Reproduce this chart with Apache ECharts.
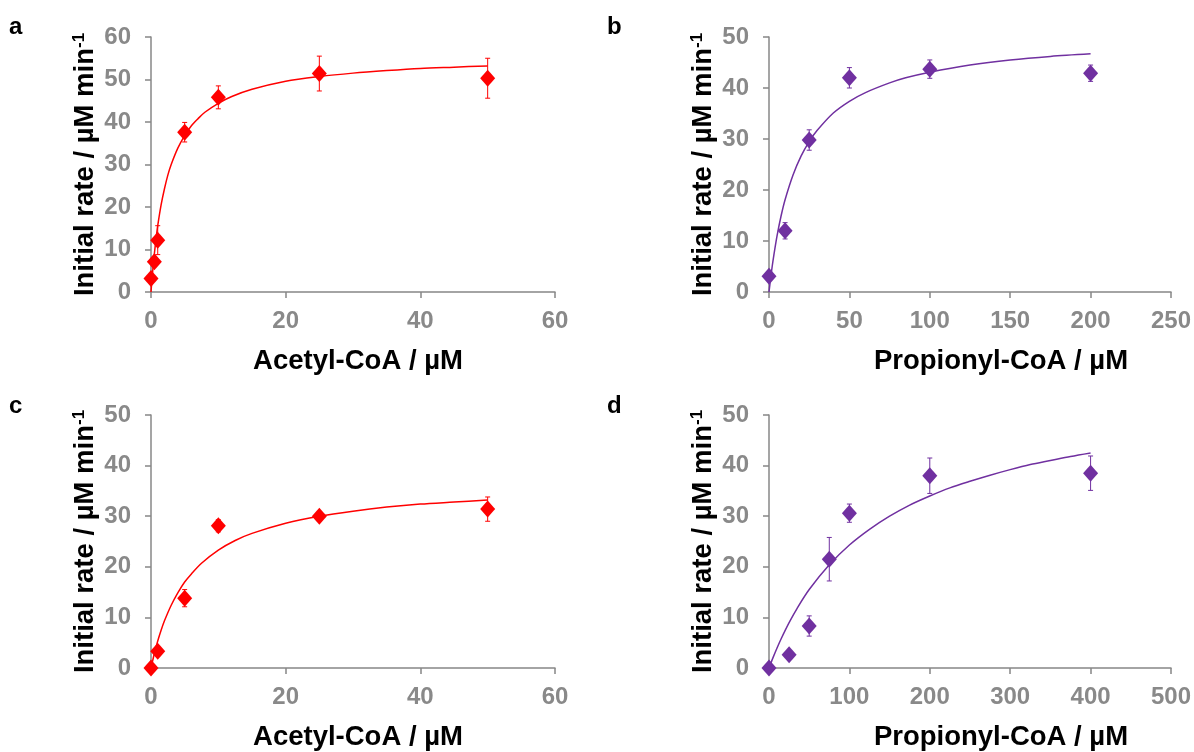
<!DOCTYPE html>
<html>
<head>
<meta charset="utf-8">
<script src="https://cdn.jsdelivr.net/npm/echarts@6/dist/echarts.min.js"></script>
<style>
html,body{margin:0;padding:0;background:#fff;}
#chart{width:1194px;height:752px;}
</style>
</head>
<body>
<div id="chart"></div>
<script>
// ---- Panel a: Acetyl-CoA ----
const aConc = [0, 0.5, 1, 5, 10, 25, 50];
const aRate = [3.2, 7.1, 12.2, 37.6, 45.8, 51.4, 50.3];
const aErr  = [0.8, 0.8, 3.4, 2.3, 2.7, 4.1, 4.7];
const aFitX = [0, 0.1, 0.25, 0.5, 0.75, 1, 1.5, 2, 2.5, 3, 4, 5, 6, 7, 8, 10, 12, 15, 20, 25, 30, 35, 40, 45, 50];
const aFitY = [0, 2.1, 4.9, 9.0, 12.5, 15.6, 20.5, 24.3, 27.5, 30.0, 33.9, 36.8, 39.1, 40.8, 42.3, 44.4, 46.0, 47.7, 49.6, 50.7, 51.5, 52.1, 52.6, 52.9, 53.2];

// ---- Panel b: Propionyl-CoA ----
const bConc = [0, 10, 25, 50, 100, 200];
const bRate = [3.1, 12.0, 29.8, 42.0, 43.7, 42.9];
const bErr  = [0.5, 1.6, 2.0, 2.0, 1.8, 1.6];
const bFitX = [0, 1, 2, 3, 5, 7.5, 10, 15, 20, 25, 30, 40, 50, 60, 75, 85, 100, 125, 150, 175, 200];
const bFitY = [0, 2.66, 5.05, 7.2, 11.0, 14.9, 18.1, 23.0, 26.7, 29.5, 31.7, 35.1, 37.4, 39.1, 41.0, 42.0, 43.1, 44.5, 45.5, 46.2, 46.7];

// ---- Panel c: Acetyl-CoA ----
const cConc = [0, 1, 5, 10, 25, 50];
const cRate = [0, 3.3, 13.8, 28.1, 30.0, 31.4];
const cErr  = [0.3, 0.5, 1.7, 1.2, 0.5, 2.4];
const cFitX = [0, 0.5, 1, 1.5, 2, 3, 4, 5, 6, 7.5, 10, 12.5, 15, 20, 25, 30, 35, 40, 45, 50];
const cFitY = [0, 2.87, 5.34, 7.47, 9.33, 12.4, 14.9, 17.0, 18.6, 20.7, 23.3, 25.2, 26.6, 28.6, 30.0, 31.0, 31.8, 32.4, 32.8, 33.2];

// ---- Panel d: Propionyl-CoA ----
const dConc = [0, 25, 50, 75, 100, 200, 400];
const dRate = [0, 2.6, 8.3, 21.5, 30.6, 38.0, 38.5];
const dErr  = [0.3, 0.4, 2.0, 4.3, 1.8, 3.5, 3.4];
const dFitX = [0, 5, 10, 15, 25, 35, 50, 75, 100, 125, 150, 175, 200, 225, 250, 275, 300, 325, 350, 375, 400];
const dFitY = [0, 2.05, 3.96, 5.74, 8.96, 11.8, 15.5, 20.4, 24.3, 27.4, 30.0, 32.2, 34.0, 35.6, 36.9, 38.1, 39.2, 40.2, 41.0, 41.8, 42.5];

// ---- Axis settings / labels ----
const panelLetters = ['a', 'b', 'c', 'd'];
const xNames = ['Acetyl-CoA / µM', 'Propionyl-CoA / µM', 'Acetyl-CoA / µM', 'Propionyl-CoA / µM'];
const yName = 'Initial rate / µM min{sup|-1}';
const xMax = [60, 250, 60, 500];
const xInterval = [20, 50, 20, 100];
const yMax = [60, 50, 50, 50];
const yInterval = [10, 10, 10, 10];

const RED = '#FF0000';
const PURPLE = '#7030A0';
const colors = [RED, PURPLE, RED, PURPLE];
const FONT = 'Liberation Sans, Arial, sans-serif';
const AXIS_GREY = '#878787';
const LABEL_GREY = '#898989';

const panels = [
  {conc: aConc, rate: aRate, err: aErr, fx: aFitX, fy: aFitY},
  {conc: bConc, rate: bRate, err: bErr, fx: bFitX, fy: bFitY},
  {conc: cConc, rate: cRate, err: cErr, fx: cFitX, fy: cFitY},
  {conc: dConc, rate: dRate, err: dErr, fx: dFitX, fy: dFitY}
];

const grids = [
  {left: 151, top: 37, width: 404, height: 255},
  {left: 769, top: 37, width: 406, height: 255},
  {left: 151, top: 415, width: 404, height: 254},
  {left: 769, top: 415, width: 406, height: 254}
];
const xNamePadLeft = [10, 62, 10, 62];

const xAxes = [], yAxes = [], series = [];
for (let i = 0; i < 4; i++) {
  xAxes.push({
    type: 'value', gridIndex: i, min: 0, max: xMax[i], interval: xInterval[i],
    name: xNames[i], nameLocation: 'middle', nameGap: 55,
    nameTextStyle: {fontSize: 27.5, fontWeight: 'bold', color: '#000', fontFamily: FONT,
      padding: [0, 0, 0, xNamePadLeft[i]]},
    axisLine: {show: true, lineStyle: {color: AXIS_GREY, width: 1.5}},
    axisTick: {show: true, length: 6, lineStyle: {color: AXIS_GREY, width: 1.5}},
    axisLabel: {fontSize: 24, fontWeight: 'bold', color: LABEL_GREY, fontFamily: FONT, margin: 17},
    splitLine: {show: false}
  });
  yAxes.push({
    type: 'value', gridIndex: i, min: 0, max: yMax[i], interval: yInterval[i],
    name: yName, nameLocation: 'middle', nameGap: 52, nameRotate: 90,
    nameTextStyle: {
      fontSize: 27.5, fontWeight: 'bold', color: '#000', fontFamily: FONT,
      rich: {sup: {fontSize: 17, fontWeight: 'bold', color: '#000', fontFamily: FONT, verticalAlign: 'top'}}
    },
    axisLine: {show: true, lineStyle: {color: AXIS_GREY, width: 1.5}},
    axisTick: {show: true, length: 6, lineStyle: {color: AXIS_GREY, width: 1.5}},
    axisLabel: {fontSize: 24, fontWeight: 'bold', color: LABEL_GREY, fontFamily: FONT, margin: 20},
    splitLine: {show: false}
  });

  const p = panels[i];
  const col = colors[i];
  series.push({
    type: 'line', xAxisIndex: i, yAxisIndex: i,
    data: p.fx.map((x, k) => [x, p.fy[k]]),
    showSymbol: false, smooth: 0.3,
    lineStyle: {color: col, width: 1.5}, z: 2, silent: true
  });
  series.push({
    type: 'custom', xAxisIndex: i, yAxisIndex: i,
    data: p.conc.map((x, k) => [x, p.rate[k], p.err[k]]),
    encode: {x: 0, y: 1},
    z: 3, silent: true,
    renderItem: (function (c) {
      return function (params, api) {
        const x = api.value(0), y = api.value(1), e = api.value(2);
        const hi = api.coord([x, y + e]);
        const lo = api.coord([x, y - e]);
        const cw = 2.5;
        const st = {stroke: c, lineWidth: 1};
        return {
          type: 'group',
          children: [
            {type: 'line', shape: {x1: hi[0], y1: hi[1], x2: lo[0], y2: lo[1]}, style: st},
            {type: 'line', shape: {x1: hi[0] - cw, y1: hi[1], x2: hi[0] + cw, y2: hi[1]}, style: st},
            {type: 'line', shape: {x1: lo[0] - cw, y1: lo[1], x2: lo[0] + cw, y2: lo[1]}, style: st}
          ]
        };
      };
    })(col)
  });
  series.push({
    type: 'scatter', xAxisIndex: i, yAxisIndex: i,
    data: p.conc.map((x, k) => [x, p.rate[k]]),
    symbol: 'diamond', symbolSize: [15, 17],
    itemStyle: {color: col, opacity: 1}, z: 4, silent: true
  });
}

const letterPos = [[9, 15], [607, 15], [9, 394], [607, 394]];
const graphics = panelLetters.map((t, i) => ({
  type: 'text', left: letterPos[i][0], top: letterPos[i][1],
  style: {text: t, font: 'bold 24px ' + FONT, fill: '#000'}
}));

const chart = echarts.init(document.getElementById('chart'), null, {renderer: 'canvas'});
chart.setOption({
  animation: false,
  backgroundColor: '#fff',
  grid: grids,
  xAxis: xAxes,
  yAxis: yAxes,
  series: series,
  graphic: graphics
});
</script>
</body>
</html>
